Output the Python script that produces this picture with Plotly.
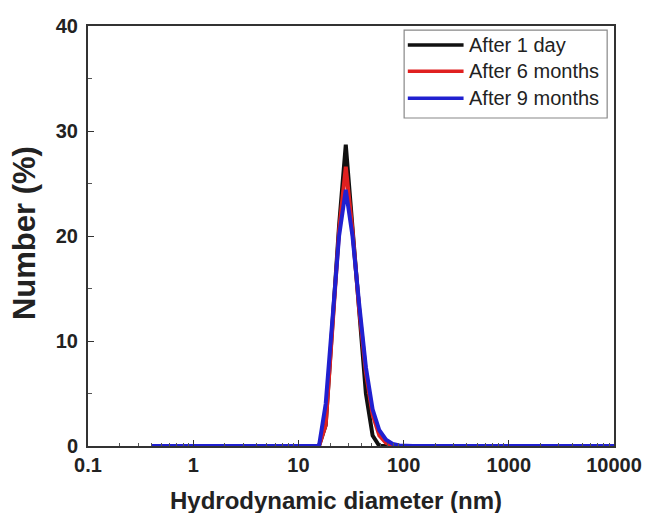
import plotly.graph_objects as go

sizes = [0.4, 0.4632, 0.5365, 0.6213, 0.7195, 0.8332, 0.9649, 1.117, 1.294, 1.499,
         1.736, 2.01, 2.328, 2.696, 3.122, 3.615, 4.187, 4.849, 5.615, 6.503,
         7.531, 8.721, 10.1, 11.7, 13.54, 15.69, 18.17, 21.04, 24.36, 28.21,
         32.67, 37.84, 43.82, 50.75, 58.77, 68.06, 78.82, 91.28, 105.7, 122.4,
         141.8, 164.2, 190.1, 220.2, 255.0, 295.3, 342.0, 396.1, 458.7, 531.2,
         615.1, 712.4, 825.0, 955.4, 1106, 1281, 1484, 1718, 1990, 2305,
         2669, 3091, 3580, 4145, 4801, 5560, 6439, 7456, 8635, 10000]

peak_sizes = [13.54, 15.69, 18.17, 21.04, 24.36, 28.21, 32.67, 37.84, 43.82, 50.75,
              58.77, 68.06, 78.82, 91.28, 105.7]
day1_peak = [0, 0, 2.0, 11.5, 21.0, 28.7, 20.5, 12.0, 5.0, 1.0, 0, 0, 0, 0, 0]
m6_peak = [0, 0, 2.0, 11.0, 20.5, 26.6, 20.5, 13.0, 7.0, 3.0, 1.0, 0.3, 0, 0, 0]
m9_peak = [0, 0, 4.0, 12.0, 20.0, 24.4, 20.0, 13.5, 7.5, 3.5, 1.5, 0.6, 0.2, 0.05, 0]

labels = ["After 1 day", "After 6 months", "After 9 months"]
colors = ["#111111", "#e02020", "#2020d0"]
x_title = "Hydrodynamic diameter (nm)"
y_title = "Number (%)"


def full(peak):
    d = dict(zip(peak_sizes, peak))
    return [d.get(s, 0) for s in sizes]


series = [full(day1_peak), full(m6_peak), full(m9_peak)]

fig = go.Figure()
for lab, col, ys in zip(labels, colors, series):
    fig.add_trace(go.Scatter(x=sizes, y=ys, mode="lines", name=lab, showlegend=False,
                             line=dict(color=col, width=4)))

font = "Liberation Sans, Arial, sans-serif"

# custom legend (paper coordinates)
fig.add_shape(type="rect", xref="paper", yref="paper", x0=0.601, x1=0.987, y0=0.781, y1=0.990,
              line=dict(color="#888", width=1.2), fillcolor="white", layer="above")
row_y = [0.955, 0.892, 0.828]
for lab, col, yy in zip(labels, colors, row_y):
    fig.add_shape(type="line", xref="paper", yref="paper", x0=0.608, x1=0.714, y0=yy, y1=yy,
                  line=dict(color=col, width=3.5), layer="above")
    fig.add_annotation(xref="paper", yref="paper", x=0.721, y=yy, text=lab, showarrow=False,
                       xanchor="left", yanchor="middle",
                       font=dict(size=20, family=font, color="#222"))

# axis titles
fig.add_annotation(xref="paper", yref="paper", x=0.4715, y=-0.1286, text=f"<b>{x_title}</b>",
                   showarrow=False, xanchor="center", yanchor="middle",
                   font=dict(size=24, family=font, color="#222"))
fig.add_annotation(xref="paper", yref="paper", x=-0.1217, y=0.507, text=f"<b>{y_title}</b>",
                   showarrow=False, xanchor="center", yanchor="middle", textangle=-90,
                   font=dict(size=31, family=font, color="#222"))

fig.update_layout(
    width=649, height=513,
    margin=dict(l=88, r=35, t=26, b=67),
    paper_bgcolor="white", plot_bgcolor="white",
    font=dict(family=font, color="#222"),
    showlegend=False,
    xaxis=dict(type="log", range=[-1, 4], showgrid=False, zeroline=False, automargin=False,
               showline=True, linecolor="#333", linewidth=2, mirror=True,
               ticks="inside", ticklen=6, tickcolor="#333",
               tickvals=[0.1, 1, 10, 100, 1000, 10000],
               ticktext=["0.1", "1", "10", "100", "1000", "10000"],
               tickfont=dict(size=20, family=font, color="#222", weight="bold"),
               minor=dict(ticks="inside", ticklen=3, tickcolor="#555", dtick="D1")),
    yaxis=dict(range=[0, 40], showgrid=False, zeroline=False, automargin=False,
               showline=True, linecolor="#333", linewidth=2, mirror=True,
               ticks="inside", ticklen=6, tickcolor="#333",
               tickvals=[0, 10, 20, 30, 40],
               tickfont=dict(size=20, family=font, color="#222", weight="bold"),
               ticklabelstandoff=4,
               minor=dict(ticks="inside", ticklen=4, tickcolor="#555", dtick=5)),
)

fig.write_html("out.html")
